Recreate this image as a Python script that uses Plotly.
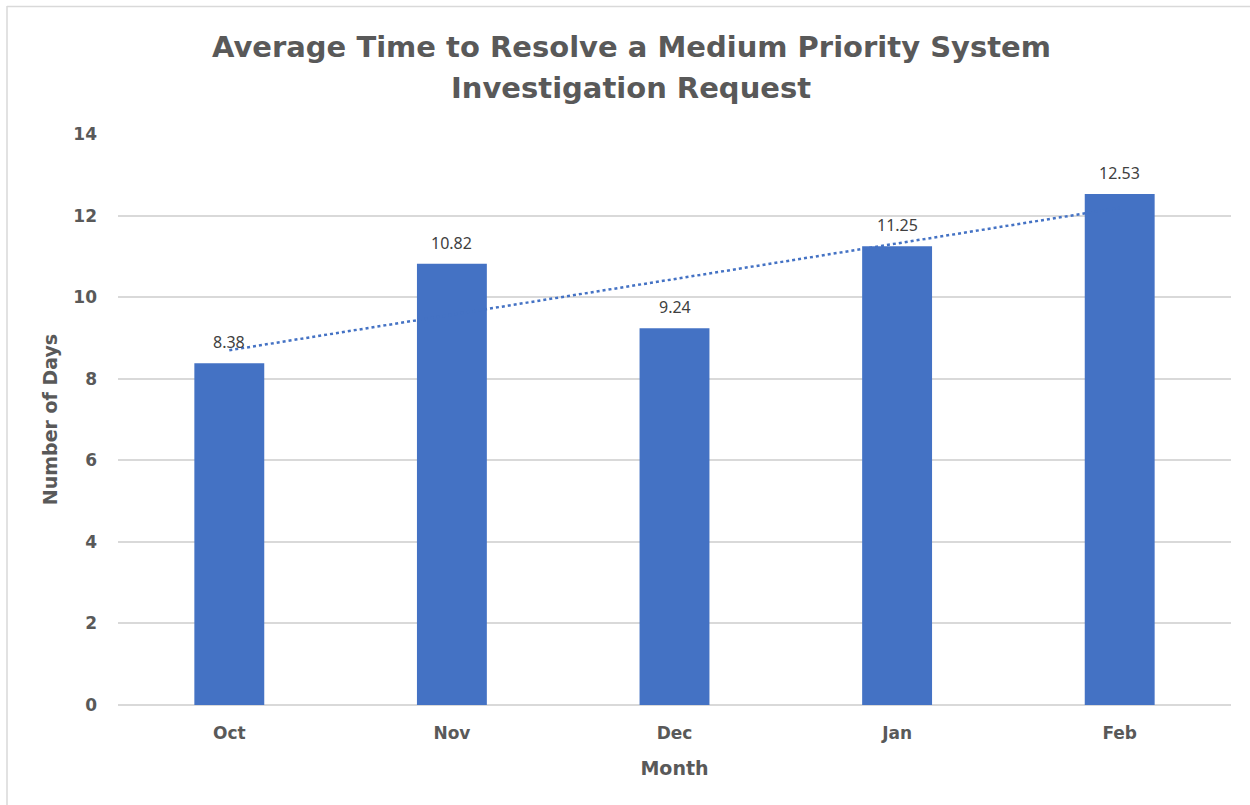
import numpy as np
import plotly.graph_objects as go

months = ["Oct", "Nov", "Dec", "Jan", "Feb"]
days = [8.38, 10.82, 9.24, 11.25, 12.53]
y_ticks = [0, 2, 4, 6, 8, 10, 12, 14]

BLUE = "#4472C4"
GRAY = "#595959"
GRID = "#D9D9D9"
HEAVY = "DejaVu Sans, Liberation Sans, Arial, sans-serif"

W, H = 1250, 805
L, R, T, B = 118, 19, 134, 100

# linear trendline (Excel-style) from the data
xi = np.arange(1, len(days) + 1)
slope, intercept = np.polyfit(xi, days, 1)
trend = slope * xi + intercept

fig = go.Figure()
fig.add_trace(go.Bar(x=months, y=days, marker=dict(color=BLUE, line=dict(width=0)),
                     hoverinfo="x+y", showlegend=False))
fig.add_trace(go.Scatter(x=months, y=trend, mode="lines",
                         line=dict(color=BLUE, width=2.5, dash="dot"),
                         showlegend=False, hoverinfo="skip"))

for m, v in zip(months, days):
    fig.add_annotation(x=m, y=v, text=f"{v:.2f}", showarrow=False,
                       yshift=21, font=dict(family="Noto Sans, Open Sans, sans-serif",
                                            size=16, color="#404040"))

pw = W - L - R
ph = H - T - B
def px_x(px):
    return (px - L) / pw
def px_y(py):
    return (H - B - py) / ph

# title as two lines (to match line spacing)
title_lines = ["Average Time to Resolve a Medium Priority System", "Investigation Request"]
for line, cy in zip(title_lines, [47, 88]):
    fig.add_annotation(xref="paper", yref="paper", x=px_x(631), y=px_y(cy),
                       xanchor="center", yanchor="middle", showarrow=False,
                       text=line, font=dict(family=HEAVY, size=29, color=GRAY, weight="bold"))

# chart border (partially visible)
fig.add_shape(type="line", xref="paper", yref="paper",
              x0=px_x(7), x1=px_x(7), y0=px_y(6), y1=px_y(810),
              line=dict(color=GRID, width=1.5))
fig.add_shape(type="line", xref="paper", yref="paper",
              x0=px_x(7), x1=px_x(1260), y0=px_y(6.5), y1=px_y(6.5),
              line=dict(color=GRID, width=1.5))

fig.update_layout(
    width=W, height=H,
    margin=dict(l=L, r=R, t=T, b=B),
    paper_bgcolor="white", plot_bgcolor="white",
    bargap=0.686,
    font=dict(family=HEAVY, color=GRAY),
)
fig.update_xaxes(
    showgrid=False, showline=False, zeroline=False,
    tickfont=dict(size=17, color=GRAY, weight="bold"),
    ticklabelstandoff=16,
    title=dict(text="Month", font=dict(size=19, color=GRAY, weight="bold"), standoff=19),
)
fig.update_yaxes(
    range=[0, 14], tickvals=y_ticks, ticktext=[str(t) for t in y_ticks],
    showgrid=True, gridcolor=GRID, gridwidth=1.5,
    zeroline=True, zerolinecolor=GRID, zerolinewidth=1.5,
    showline=False,
    tickfont=dict(size=17, color=GRAY, weight="bold"),
    ticklabelstandoff=20,
    title=dict(text="Number of Days", font=dict(size=19, color=GRAY, weight="bold"), standoff=10),
)

fig.write_html("out.html")
